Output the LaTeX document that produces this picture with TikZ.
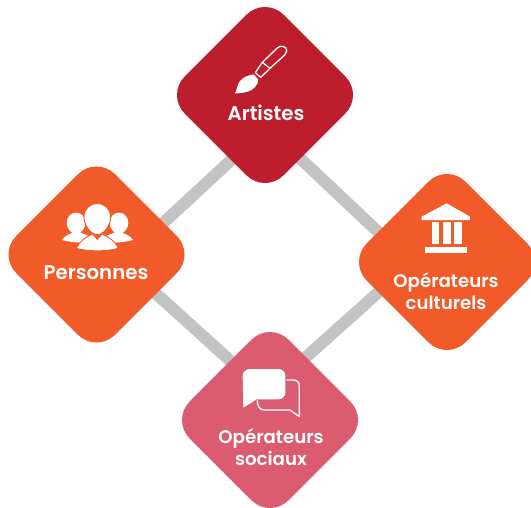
\documentclass[tikz,border=0pt]{standalone}
\usepackage{fontspec}
\setmainfont{Poppins}
\newfontfamily\labfont{Poppins SemiBold}
\usetikzlibrary{backgrounds}
\definecolor{crim}{HTML}{BC1E2D}
\definecolor{orng}{HTML}{F15A29}
\definecolor{rose}{HTML}{DB5C70}
\definecolor{linkgray}{HTML}{C2C4C3}
\tikzset{
  tile/.style={fill=#1,rotate=45,minimum size=139.7pt,rounded corners=26pt,inner sep=0pt,draw=none},
  lab/.style={text=white,font=\labfont\fontsize{19.8pt}{22pt}\selectfont,align=center,inner sep=0pt},
  labtwo/.style={text=white,font=\labfont\fontsize{18.2pt}{22pt}\selectfont,align=center,inner sep=0pt,text width=130pt},
  icnline/.style={draw=white,line width=1.3pt,fill=none,line join=round}
}
\begin{document}
\begin{tikzpicture}[x=1pt,y=-1pt]
\useasboundingbox (0,0) rectangle (531,507);
\node[tile=crim] (artistes) at (265,95) {};
\node[tile=orng] (personnes) at (96.5,254.5) {};
\node[tile=orng] (culturels) at (447,262) {};
\node[tile=rose] (sociaux) at (270,420) {};
\coordinate (ct) at (267,127);
\coordinate (cl) at (121,262);
\coordinate (cr) at (411,263);
\coordinate (cb) at (266,393);
\begin{scope}[on background layer]
\draw[draw=linkgray,line width=12pt] (ct) -- (cl);
\draw[draw=linkgray,line width=12pt] (ct) -- (cr);
\draw[draw=linkgray,line width=12pt] (cl) -- (cb);
\draw[draw=linkgray,line width=12pt] (cr) -- (cb);
\end{scope}
\node[lab] (tartistes) at (266,113) {Artistes};
\node[lab] (tpersonnes) at (96,273) {Personnes};
\node[labtwo] (tculturels) at (446,291) {Opérateurs\\culturels};
\node[labtwo] (tsociaux) at (271,447) {Opérateurs\\sociaux};
% brush
\begin{scope}[shift={(225,35)},x=0.3333pt,y=-0.3333pt]
\fill[white] (30,175) .. controls (38,160) and (36,148) .. (45,138) .. controls (55,126) and (72,120) .. (86,118) -- (100,134) .. controls (100,150) and (85,165) .. (68,170) .. controls (55,174) and (42,175) .. (30,175) -- cycle;
\draw[icnline] (91,113) -- (112,82) -- (158,38) .. controls (168,30) and (186,33) .. (185,48) .. controls (185,52) and (183,56) .. (180,59) -- (135,100) -- (107,127) -- cycle;
\draw[icnline] (112,82) -- (135,100);
\end{scope}
% people
\begin{scope}[shift={(0,160)},x=0.3333pt,y=-0.3333pt]
\fill[white] (228,158) .. controls (245,158) and (256,172) .. (256,190) .. controls (256,205) and (242,222) .. (228,222) .. controls (214,222) and (200,205) .. (200,190) .. controls (200,172) and (211,158) .. (228,158) -- cycle;
\fill[white] (186,240) .. controls (195,225) and (212,222) .. (220,217) -- (240,217) .. controls (250,222) and (262,224) .. (272,232) -- (250,248) .. controls (225,248) and (205,245) .. (186,240) -- cycle;
\fill[white] (357,158) .. controls (374,158) and (385,172) .. (385,190) .. controls (385,205) and (371,222) .. (357,222) .. controls (343,222) and (329,205) .. (329,190) .. controls (329,172) and (340,158) .. (357,158) -- cycle;
\fill[white] (399,240) .. controls (390,225) and (373,222) .. (365,217) -- (345,217) .. controls (335,222) and (323,224) .. (313,232) -- (335,248) .. controls (360,248) and (380,245) .. (399,240) -- cycle;
\fill[white,draw=orng,line width=0.9pt] (292,131) .. controls (316,131) and (332,148) .. (332,172) .. controls (332,195) and (312,224) .. (292,224) .. controls (272,224) and (252,195) .. (252,172) .. controls (252,148) and (268,131) .. (292,131) -- cycle;
\fill[white,draw=orng,line width=0.9pt] (229,265) .. controls (238,245) and (255,232) .. (278,222) -- (292,238) -- (306,222) .. controls (330,232) and (346,245) .. (355,265) .. controls (320,275) and (265,275) .. (229,265) -- cycle;
\end{scope}
% temple
\begin{scope}[shift={(415,195)},x=0.3333pt,y=-0.3333pt]
\fill[white] (20,75) -- (20,65) -- (95,25) -- (165,65) -- (165,75) -- cycle;
\fill[white] (50,82) rectangle (72,146);
\fill[white] (85,82) rectangle (107,146);
\fill[white] (118,82) rectangle (140,146);
\fill[white] (30,156) rectangle (157,175);
\end{scope}
% bubbles
\begin{scope}[shift={(175,325)},x=0.3333pt,y=-0.3333pt]
\fill[white] (225,132) -- (310,132) .. controls (322,132) and (331,141) .. (331,153) -- (331,202) .. controls (331,214) and (322,223) .. (310,223) -- (245,223) -- (205,248) -- (203,153) .. controls (203,141) and (213,132) .. (225,132) -- cycle;
\draw[icnline] (335,165) -- (355,165) .. controls (366,165) and (373,172) .. (373,183) -- (373,275) -- (345,255) -- (268,255) .. controls (255,255) and (247,245) .. (247,226);
\end{scope}
\end{tikzpicture}
\end{document}
